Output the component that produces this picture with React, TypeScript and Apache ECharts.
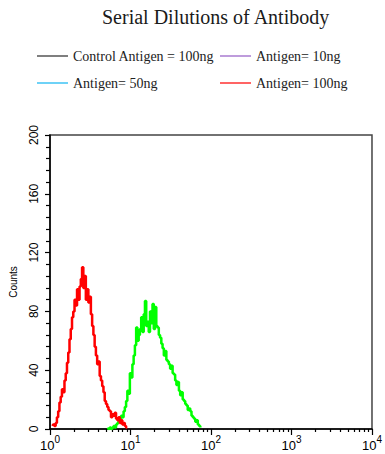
import React, { useEffect, useRef } from "react";
import * as echarts from "echarts";

// histogram channels: 64 channels per decade (channel / 64 = log10 of intensity)
const CHANNELS_PER_DECADE = 64;

const legendNames = [
  "Control Antigen = 100ng",
  "Antigen= 10ng",
  "Antigen= 50ng",
  "Antigen= 100ng",
];
const legendColors = ["#555555", "#a97bd0", "#3ec3f5", "#ff3030"];

const redStart = 2;
const redCounts = [
  2, 3, 2, 4, 8, 12, 18, 22, 27, 25, 33, 38, 45, 52, 61, 68, 76, 80, 88, 84,
  95, 88, 97, 102, 110, 96, 104, 88, 95, 86, 90, 78, 70, 64, 56, 50, 44, 46,
  36, 33, 29, 25, 19, 17, 15, 13, 12, 8, 10, 9, 11, 7, 6, 8, 4, 6, 3, 4, 2, 1, 1,
];

const greenStart = 46;
const greenCounts = [
  1, 0, 1, 0, 1, 2, 1, 3, 4, 6, 5, 9, 8, 12, 15, 19, 26, 24, 38, 35, 44, 50,
  57, 69, 60, 64, 68, 76, 66, 78, 87, 70, 73, 66, 80, 72, 85, 68, 83, 70, 69,
  64, 62, 58, 55, 50, 53, 47, 46, 44, 41, 43, 38, 37, 33, 30, 32, 26, 23, 25,
  20, 19, 17, 16, 13, 14, 12, 9, 8, 7, 5, 6, 3, 2, 1,
];

const decades = [0, 1, 2, 3, 4];
const minorMultipliers = [2, 3, 4, 5, 6, 7, 8, 9];
const yTicks = { min: 0, max: 200, interval: 40 };

function toPairs(start: number, counts: number[]) {
  return counts.map((c, i) => [(start + i) / CHANNELS_PER_DECADE, c]);
}

export default function App() {
  const ref = useRef<HTMLDivElement>(null);
  useEffect(() => {
    if (!ref.current) return;
    const chart = echarts.init(ref.current, null, { renderer: "svg" });
    const minorVals: number[] = [];
    for (let d = 0; d < 4; d++) {
      for (const k of minorMultipliers) minorVals.push(d + Math.log10(k));
    }
    const sans = "Liberation Sans";
    const serif = "Liberation Serif";
    const legends = legendNames.map((name, i) => ({
      data: [name],
      left: i % 2 === 0 ? 32 : 215,
      top: i < 2 ? 44 : 71,
      icon: "rect",
      itemWidth: 31,
      itemHeight: 1.5,
      textStyle: { fontFamily: serif, fontSize: 14, color: "#222" },
      selectedMode: false,
    }));
    chart.setOption({
      animation: false,
      backgroundColor: "#ffffff",
      title: {
        text: "Serial Dilutions of Antibody",
        left: 97,
        top: 2,
        textStyle: {
          fontFamily: serif,
          fontSize: 20,
          fontWeight: "normal",
          color: "#1a1a1a",
        },
      },
      legend: legends,
      grid: {
        left: 48,
        right: 8,
        top: 135,
        bottom: 25,
        show: true,
        borderColor: "#444",
        borderWidth: 1.5,
        containLabel: false,
      },
      xAxis: [
        {
          type: "value",
          min: 0,
          max: 4,
          position: "bottom",
          axisLine: { show: true, lineStyle: { color: "#000", width: 1.5 } },
          axisTick: {
            show: true,
            length: 6,
            customValues: decades,
            lineStyle: { color: "#000", width: 1.2 },
          },
          axisLabel: {
            customValues: decades,
            margin: 5,
            formatter: (v: number) => `{b|10}{s|${Math.round(v)}}`,
            rich: {
              b: {
                fontFamily: sans,
                fontSize: 13,
                color: "#000",
                verticalAlign: "bottom",
                lineHeight: 18,
              },
              s: {
                fontFamily: sans,
                fontSize: 10,
                color: "#000",
                verticalAlign: "top",
                lineHeight: 10,
              },
            },
          },
          splitLine: { show: false },
        },
        {
          type: "value",
          min: 0,
          max: 4,
          position: "bottom",
          axisLine: { show: false },
          axisTick: {
            show: true,
            length: 3,
            customValues: minorVals,
            lineStyle: { color: "#000", width: 1.2 },
          },
          axisLabel: { show: false },
          splitLine: { show: false },
        },
      ],
      yAxis: {
        type: "value",
        min: yTicks.min,
        max: yTicks.max,
        interval: yTicks.interval,
        name: "Counts",
        nameLocation: "middle",
        nameGap: 32,
        nameRotate: 90,
        nameTextStyle: { fontFamily: sans, fontSize: 10, color: "#000" },
        axisLine: { show: true, lineStyle: { color: "#000", width: 1.5 } },
        axisTick: { show: true, length: 5, lineStyle: { color: "#000", width: 1.2 } },
        minorTick: {
          show: true,
          splitNumber: 5,
          length: 4,
          lineStyle: { color: "#000", width: 1.2 },
        },
        axisLabel: {
          rotate: 90,
          margin: 10,
          fontFamily: sans,
          fontSize: 12,
          color: "#000",
        },
        splitLine: { show: false },
        minorSplitLine: { show: false },
      },
      series: [
        ...legendNames.slice(0, 3).map((name, i) => ({
          name,
          type: "line",
          data: [],
          symbol: "none",
          lineStyle: { color: legendColors[i], width: 1.5 },
          itemStyle: { color: legendColors[i] },
        })),
        {
          name: "Antigen (green)",
          type: "line",
          data: toPairs(greenStart, greenCounts),
          step: "middle",
          symbol: "none",
          showSymbol: false,
          lineStyle: { color: "#00ff00", width: 2.5 },
          itemStyle: { color: "#00ff00" },
        },
        {
          name: legendNames[3],
          type: "line",
          data: toPairs(redStart, redCounts),
          step: "middle",
          symbol: "none",
          showSymbol: false,
          lineStyle: { color: "#ff0000", width: 2.5 },
          itemStyle: { color: legendColors[3] },
        },
      ],
    });
    return () => chart.dispose();
  }, []);
  return (
    <div
      ref={ref}
      style={{ position: "fixed", left: 0, top: 0, width: 385, height: 454 }}
    />
  );
}
